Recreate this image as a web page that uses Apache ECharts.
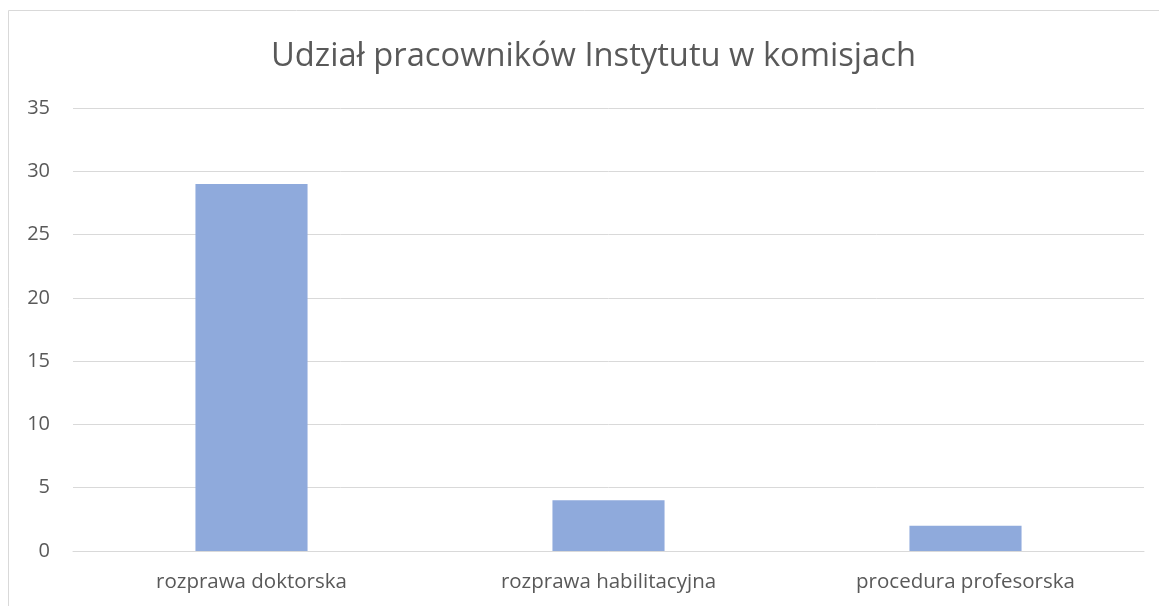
<!DOCTYPE html>
<html>
<head>
<meta charset="utf-8">
<script src="https://cdn.jsdelivr.net/npm/echarts@6/dist/echarts.min.js"></script>
<style>
  html, body { margin: 0; padding: 0; background: #fff; }
  #chart { width: 1159px; height: 606px; }
</style>
</head>
<body>
<div id="chart"></div>
<script>
var categories = ['rozprawa doktorska', 'rozprawa habilitacyjna', 'procedura profesorska'];
var values = [29, 4, 2];

var chart = echarts.init(document.getElementById('chart'));
chart.setOption({
  animation: false,
  textStyle: { fontFamily: 'Open Sans' },
  title: {
    text: 'Udział pracowników Instytutu w komisjach',
    left: 266,
    top: 35,
    textStyle: { fontSize: 32.7, fontWeight: 'normal', color: '#595959', fontFamily: 'Open Sans' }
  },
  graphic: [{
    type: 'rect',
    shape: { x: 8.5, y: 10.5, width: 1160, height: 700 },
    style: { fill: 'none', stroke: '#d9d9d9', lineWidth: 1 },
    silent: true
  }],
  grid: { left: 73, right: 15, top: 108, bottom: 55 },
  xAxis: {
    type: 'category',
    data: categories,
    axisLine: { lineStyle: { color: '#d9d9d9', width: 1 } },
    axisTick: { show: false },
    axisLabel: { color: '#595959', fontSize: 20.5, margin: 21 }
  },
  yAxis: {
    type: 'value',
    min: 0,
    max: 35,
    interval: 5,
    axisLine: { show: false },
    axisTick: { show: false },
    axisLabel: { color: '#595959', fontSize: 20, margin: 23 },
    splitLine: { lineStyle: { color: '#d9d9d9', width: 1 } }
  },
  series: [{
    type: 'bar',
    data: values,
    barWidth: '31.4%',
    itemStyle: { color: '#8faadc' }
  }]
});
</script>
</body>
</html>
